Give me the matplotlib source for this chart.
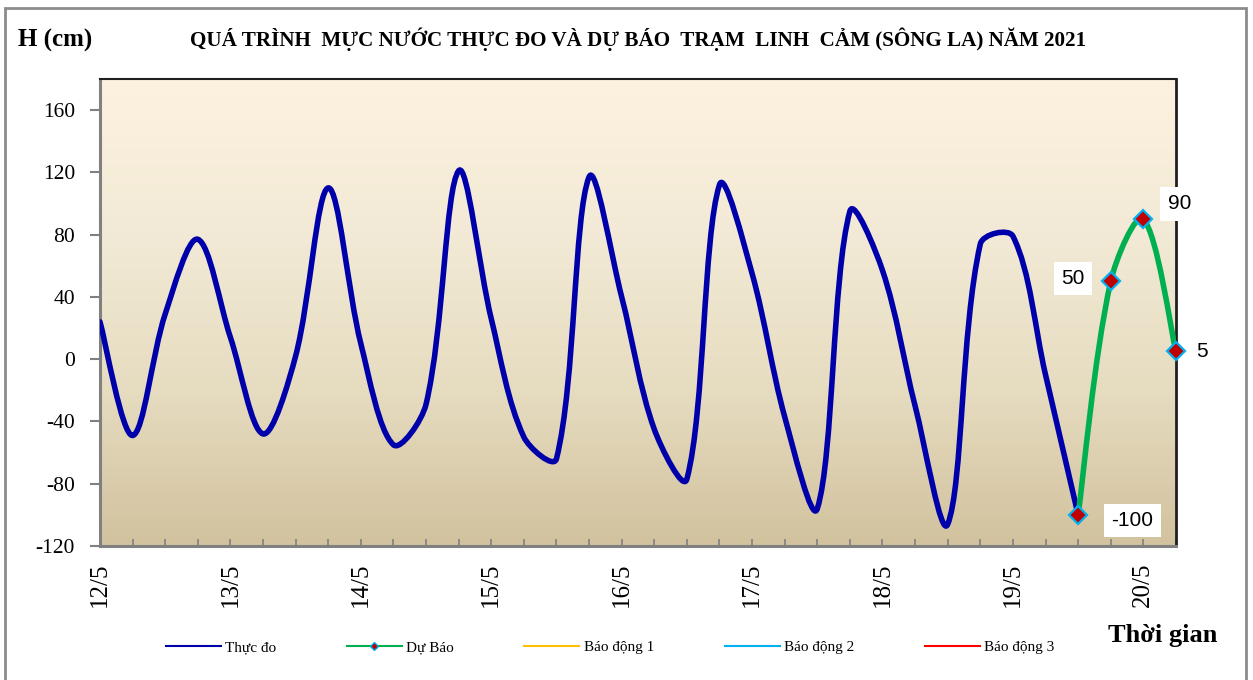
import numpy as np
import matplotlib
matplotlib.use("Agg")
import matplotlib.pyplot as plt
from matplotlib.path import Path
from matplotlib.patches import PathPatch, Rectangle
from matplotlib.lines import Line2D
from matplotlib.colors import LinearSegmentedColormap

# ---------------- data (6-hourly steps starting 12/5) ----------------
observed = [24, -49, 29, 77, 14, -48, 2, 110, 10, -55, -29, 121, 26, -50, -64,
            117, 40, -45, -77, 112, 55, -37, -96, 95, 57, -30, -106, 74, 79, -10, -100]
obs_steps = list(range(0, 31))
forecast = [-100, 50, 90, 5]
fc_steps = [30, 31, 32, 33]
day_labels = ["12/5", "13/5", "14/5", "15/5", "16/5", "17/5", "18/5", "19/5", "20/5"]
day_steps = [0, 4, 8, 12, 16, 20, 24, 28, 32]
y_ticks = [-120, -80, -40, 0, 40, 80, 120, 160]
legend_names = ["Thực đo", "Dự Báo", "Báo động 1", "Báo động 2", "Báo động 3"]

SERIF = ["Liberation Serif", "DejaVu Serif"]
SANS = ["Liberation Sans", "DejaVu Sans"]

BLUE = "#0000AA"
GREEN = "#00B050"
ORANGE = "#FFC000"
CYAN = "#00B0F0"
RED = "#FF0000"
MARK_FILL = "#C00000"


def smooth_path(ax, xs, ys, tension=1.0 / 3.0):
    """Excel-style smoothed line: cubic Bezier segments whose control arms are
    weighted by neighbouring segment lengths measured on screen."""
    pts = np.column_stack([xs, ys]).astype(float)
    scr = ax.transData.transform(pts)
    n = len(pts)
    verts = [pts[0]]
    codes = [Path.MOVETO]
    for i in range(n - 1):
        i0 = i - 1 if i > 0 else i
        i3 = i + 2 if i + 2 < n else i + 1
        p0, p1, p2, p3 = pts[i0], pts[i], pts[i + 1], pts[i3]
        s0, s1, s2, s3 = scr[i0], scr[i], scr[i + 1], scr[i3]
        d01 = np.hypot(*(s1 - s0))
        d12 = np.hypot(*(s2 - s1))
        d23 = np.hypot(*(s3 - s2))
        w1 = d12 / (d01 + d12) if d01 + d12 > 0 else 0.5
        w2 = d12 / (d12 + d23) if d12 + d23 > 0 else 0.5
        if i == 0:
            w1 = 0.5
        if i + 2 >= n:
            w2 = 0.5
        c1 = p1 + tension * w1 * (p2 - p0)
        c2 = p2 - tension * w2 * (p3 - p1)
        verts += [c1, c2, p2]
        codes += [Path.CURVE4] * 3
    return Path(verts, codes)


fig = plt.figure(figsize=(12.53, 6.80), dpi=100)
fig.patch.set_facecolor("white")

# outer frame of the chart
fig.patches.append(Rectangle((0.004, -0.02), 0.9905, 1.008, transform=fig.transFigure,
                             fill=False, edgecolor="#8C8C8C", linewidth=2.0, zorder=0))

ax = fig.add_axes([0.0798, 0.197, 0.8587, 0.687])

# gradient background
cmap = LinearSegmentedColormap.from_list("bg", ["#D2C29E", "#E6DCC0", "#F2EAD6", "#FDF2DF"])
grad = np.linspace(0, 1, 256)[:, None]
ax.imshow(grad, extent=[0, 1, 0, 1], transform=ax.transAxes, origin="lower",
          aspect="auto", cmap=cmap, zorder=0)
ax.set_xlim(0, 33)
ax.set_ylim(-120, 180)

# observed (smoothed)
ax.add_patch(PathPatch(smooth_path(ax, obs_steps, observed), fill=False, edgecolor=BLUE,
                       linewidth=4.0, capstyle="round", joinstyle="round", zorder=3))
# forecast (smoothed) + markers
ax.add_patch(PathPatch(smooth_path(ax, fc_steps, forecast), fill=False, edgecolor=GREEN,
                       linewidth=4.0, capstyle="round", joinstyle="round", zorder=4))
ax.plot(fc_steps, forecast, linestyle="none", marker="D", markersize=9,
        markerfacecolor=MARK_FILL, markeredgecolor=CYAN, markeredgewidth=1.6,
        zorder=5, clip_on=False)

# data labels
label_offsets = [(39, -4), (-27, 2), (26, 11), (19, 0)]
for xv, yv, off in zip(fc_steps, forecast, label_offsets):
    ax.annotate(f"{yv}", xy=(xv, yv), xytext=off, textcoords="offset points",
                ha="center", va="center", fontsize=15, family=SANS, color="black",
                bbox=dict(boxstyle="square,pad=0.35", facecolor="white", edgecolor="none"),
                zorder=6, annotation_clip=False)

# axes styling
for side in ["left", "bottom"]:
    ax.spines[side].set_color("#808080")
    ax.spines[side].set_linewidth(2.2)
ax.spines["top"].set_color("#202020")
ax.spines["top"].set_linewidth(1.5)
ax.spines["right"].set_color("#202020")
ax.spines["right"].set_linewidth(2.0)

ax.set_yticks(y_ticks)
ax.set_yticklabels([str(v) for v in y_ticks], family=SERIF, fontsize=15.5)
ax.tick_params(axis="y", direction="out", length=7, width=1.5, color="#808080", pad=11)

ax.set_xticks(range(0, 34), minor=True)
ax.set_xticks(day_steps)
ax.set_xticklabels(day_labels, rotation=90, family=SERIF, fontsize=18)
ax.tick_params(axis="x", which="both", direction="in", length=5, width=1.2,
               color="#808080", pad=12)

# titles
fig.text(0.014, 0.940, "H (cm)", family=SERIF, fontsize=18, fontweight="bold",
         ha="left", va="center")
fig.text(0.509, 0.942, "QUÁ TRÌNH  MỰC NƯỚC THỰC ĐO VÀ DỰ BÁO  TRẠM  LINH  CẢM (SÔNG LA) NĂM 2021",
         family=SERIF, fontsize=15.2, fontweight="bold", ha="center", va="center")
fig.text(0.928, 0.065, "Thời gian", family=SERIF, fontsize=19, fontweight="bold",
         ha="center", va="center")

# legend
handles = [
    Line2D([], [], color=BLUE, linewidth=1.5),
    Line2D([], [], color=GREEN, linewidth=1.5, marker="D", markersize=4,
           markerfacecolor=MARK_FILL, markeredgecolor=CYAN, markeredgewidth=1.0),
    Line2D([], [], color=ORANGE, linewidth=1.5),
    Line2D([], [], color=CYAN, linewidth=1.5),
    Line2D([], [], color=RED, linewidth=1.5),
]
fig.legend(handles, legend_names, loc="center", bbox_to_anchor=(0.487, 0.048), ncol=5,
           frameon=False, prop={"family": SERIF, "size": 11}, handlelength=3.6,
           handletextpad=0.3, columnspacing=4.6)

fig.savefig("out.png", dpi=100, facecolor="white")
